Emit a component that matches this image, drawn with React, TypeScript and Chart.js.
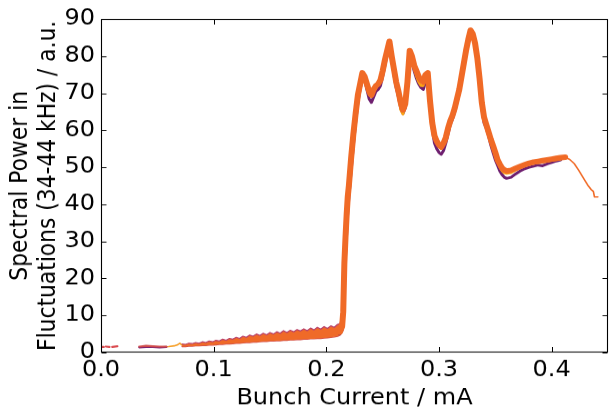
import React, { useEffect, useRef } from "react";
import { Chart, registerables } from "chart.js";

Chart.register(...registerables);

// ---- data ----
const highCurrent = [
  0.212, 0.214, 0.215, 0.216, 0.217, 0.218, 0.219, 0.220, 0.222, 0.224,
  0.226, 0.228, 0.230, 0.232, 0.234, 0.236, 0.238, 0.240, 0.242, 0.244,
  0.246, 0.248, 0.250, 0.252, 0.254, 0.256, 0.258, 0.260, 0.262, 0.264,
  0.266, 0.268, 0.270, 0.272, 0.274, 0.276, 0.278, 0.280, 0.282, 0.284,
  0.286, 0.288, 0.290, 0.292, 0.294, 0.296, 0.298, 0.300, 0.302, 0.304,
  0.306, 0.308, 0.310, 0.312, 0.314, 0.316, 0.318, 0.320, 0.322, 0.324,
  0.326, 0.328, 0.330, 0.332, 0.334, 0.336, 0.338, 0.340, 0.342, 0.344,
  0.346, 0.348, 0.350, 0.352, 0.354, 0.356, 0.358, 0.360, 0.364, 0.368,
  0.372, 0.376, 0.380, 0.384, 0.388, 0.392, 0.396, 0.400, 0.404, 0.408,
  0.412,
];

const powerOrange = [
  5.5, 7, 11, 24, 31, 37, 42, 45, 52.5, 59,
  64.5, 69.5, 72.5, 75.5, 74.5, 72.5, 70.5, 69.5, 71, 72,
  72.5, 73.5, 76, 79, 81.5, 84, 80, 76.5, 73, 70.5,
  67.5, 65.5, 67, 73, 81.5, 80, 77.5, 76, 74.5, 73.5,
  73, 75, 75.5, 68, 62, 58.5, 57, 56, 55.5, 56.5,
  58, 60.5, 62.5, 64, 66, 68.5, 71, 74.5, 78, 81.5,
  84.5, 87, 86, 83.5, 79.5, 74, 67.5, 63.5, 61.5, 59.5,
  57.5, 55.8, 54, 52, 50.8, 49.8, 49.3, 49, 49.2, 49.7,
  50.2, 50.7, 51.1, 51.4, 51.6, 51.8, 52, 52.2, 52.4, 52.6,
  52.7,
];

const powerPurple = [
  5, 6, 8, 18, 26, 32, 38, 42, 49, 56,
  62, 67.5, 71, 74, 73.5, 71, 68.5, 67.5, 69, 70.5,
  71, 72, 74.5, 77.5, 80.5, 83.5, 79.5, 75, 71.5, 69,
  66, 64.5, 66, 72, 80.5, 78.5, 76, 74, 72.5, 71.5,
  71, 73, 73.5, 66.5, 60.5, 56.5, 55, 54, 53.5, 54.5,
  56.5, 59, 61.5, 63, 65, 67.5, 70, 73.5, 77, 80.5,
  84, 86.5, 85.5, 83, 78, 72.5, 66, 62, 60.5, 58.5,
  56, 54, 52, 50.5, 49, 48, 47.3, 47, 47.3, 48.2,
  49, 49.6, 50, 50.3, 50.6, 50.4, 50.9, 51.3, 51.7, 52,
  null,
];

const powerYellow = [
  6, 9, 15, 27, 34, 40, 44, 47, 53, 58,
  63, 68, 72, 75, 74, 71.5, 69.5, 69, 70.5, 71.5,
  72, 73, 75.5, 78.5, 81, 83.5, 79.5, 75.5, 72, 69,
  65.5, 64.3, 66.5, 72.5, 81, 79.5, 76.5, 74.5, 73, 72,
  72, 74.5, 75, 67.5, 61.5, 58, 56.5, 55.5, 55, 56,
  57.5, 60, 62, 63.5, 65.5, 68, 70.5, 74, 77.5, 81,
  84, 86.5, 85.5, 83, 79, 73.5, 67, 63, 61, 59,
  57, 55, 53, 51.5, 50, 49, 48.5, 48.3, 48.5, 49.2,
  49.8, 50.3, 50.7, 51, 51.2, 51.4, 51.6, 51.8, 52, 52.2,
  null,
];

const tailCurrent = [0.412, 0.416, 0.420, 0.424, 0.428, 0.432, 0.435, 0.437, 0.438, 0.441];
const tailPower = [52.7, 52.1, 51, 49.2, 47.2, 45.2, 44, 43.5, 42, 42];

const lowCurrent = [
  0.072, 0.075, 0.078, 0.081, 0.084, 0.087, 0.090, 0.093, 0.096, 0.099,
  0.102, 0.105, 0.108, 0.111, 0.114, 0.117, 0.120, 0.123, 0.126, 0.129,
  0.132, 0.135, 0.138, 0.141, 0.144, 0.147, 0.150, 0.153, 0.156, 0.159,
  0.162, 0.165, 0.168, 0.171, 0.174, 0.177, 0.180, 0.183, 0.186, 0.189,
  0.192, 0.195, 0.198, 0.201, 0.204, 0.207, 0.210, 0.212, 0.214,
];
const lowUpper = [
  2.3, 2.2, 2.5, 2.4, 2.7, 2.5, 2.9, 2.7, 3.1, 2.9,
  3.3, 3.1, 3.6, 3.3, 3.8, 3.6, 4.1, 3.8, 4.4, 4.1,
  4.7, 4.4, 5.0, 4.6, 5.2, 4.8, 5.4, 5.0, 5.6, 5.2,
  5.9, 5.4, 6.0, 5.6, 6.2, 5.8, 6.4, 5.9, 6.6, 6.1,
  6.8, 6.3, 7.0, 6.5, 7.2, 6.8, 7.6, 7.8, 9.5,
];
const lowLower = [
  1.6, 1.6, 1.7, 1.7, 1.8, 1.8, 1.9, 1.9, 2.0, 2.0,
  2.1, 2.2, 2.2, 2.3, 2.3, 2.4, 2.5, 2.5, 2.6, 2.7,
  2.7, 2.8, 2.8, 2.9, 3.0, 3.0, 3.1, 3.1, 3.2, 3.2,
  3.3, 3.3, 3.4, 3.4, 3.5, 3.5, 3.6, 3.6, 3.7, 3.7,
  3.8, 3.8, 3.9, 4.0, 4.1, 4.2, 4.4, 4.7, 5.5,
];

const startCurrent = [0.0005, 0.0025, 0.003, 0.0045, 0.0075, 0.0085, 0.010, 0.0145];
const startPower = [1.5, 1.5, null, 1.6, 1.5, null, 1.5, 1.7];

const earlyCurrent = [0.034, 0.040, 0.046, 0.052, 0.058];
const earlyPurple = [1.4, 1.5, 1.5, 1.4, 1.5];
const earlyRed = [1.6, 1.8, 1.7, 1.6, 1.6];

const rampCurrent = [0.055, 0.060, 0.065, 0.068, 0.070, 0.072];
const rampPower = [1.5, 1.6, 1.8, 2.1, 2.5, 2.0];

const xTicks = [0.0, 0.1, 0.2, 0.3, 0.4];
const yTicks = [0, 10, 20, 30, 40, 50, 60, 70, 80, 90];

const pts = (xs: number[], ys: (number | null)[]) =>
  xs.map((x, i) => ({ x, y: ys[i] }));

const FONT = "'DejaVu Sans', sans-serif";
// the reference figure is squashed vertically; draw on a taller canvas and scale it with CSS
const W = 609;
const H_LOGICAL = 448;
const H_DISPLAY = 407;

const framePlugin = {
  id: "frameTicks",
  afterDraw(chart: any) {
    const { ctx, chartArea: a, scales } = chart;
    const L = Math.round(a.left) + 0.5;
    const R = Math.round(a.right) - 0.5;
    const T = Math.round(a.top) + 0.5;
    const B = Math.round(a.bottom) - 0.5;
    const lenX = 5;
    const lenY = 5.5;
    ctx.save();
    ctx.strokeStyle = "#000";
    ctx.lineWidth = 1;
    ctx.beginPath();
    xTicks.forEach((v) => {
      const px = Math.round(scales.x.getPixelForValue(v)) + 0.5;
      ctx.moveTo(px, B);
      ctx.lineTo(px, B - lenY);
      ctx.moveTo(px, T);
      ctx.lineTo(px, T + lenY);
    });
    yTicks.forEach((v) => {
      const py = Math.round(scales.y.getPixelForValue(v)) + 0.5;
      ctx.moveTo(L, py);
      ctx.lineTo(L + lenX, py);
      ctx.moveTo(R, py);
      ctx.lineTo(R - lenX, py);
    });
    ctx.stroke();
    ctx.lineWidth = 1.1;
    ctx.strokeRect(L, T, R - L, B - T);
    ctx.restore();
  },
};

export default function App() {
  const ref = useRef<HTMLCanvasElement | null>(null);

  useEffect(() => {
    if (!ref.current) return;
    const line = (data: any[], color: string, width: number, extra: any = {}) => ({
      data,
      borderColor: color,
      backgroundColor: color,
      borderWidth: width,
      pointRadius: 0,
      tension: 0,
      spanGaps: false,
      borderJoinStyle: "round",
      borderCapStyle: "round",
      fill: false,
      ...extra,
    });
    const chart = new Chart(ref.current, {
      type: "line",
      data: {
        datasets: [
          line(pts(highCurrent, powerOrange), "#f06a26", 6),
          line(pts(tailCurrent, tailPower), "#f06a26", 1.6),
          line(pts(highCurrent, powerYellow), "#fba614", 2.6),
          line(pts(highCurrent, powerPurple), "#6e1f6f", 3),
          line(pts(lowCurrent, lowUpper), "#b8406a", 1.2, {
            fill: "+1",
            backgroundColor: "#ef6a28",
          }),
          line(pts(lowCurrent, lowLower), "#d04a48", 1.4),
          line(pts(startCurrent, startPower), "#d9464a", 2.2),
          line(pts(earlyCurrent, earlyRed), "#d04a4a", 2.2),
          line(pts(earlyCurrent, earlyPurple), "#7a2270", 2.2),
          line(pts(rampCurrent, rampPower), "#f59a1c", 1.6),
        ],
      },
      options: {
        animation: false,
        responsive: false,
        maintainAspectRatio: false,
        devicePixelRatio: 1,
        events: [],
        layout: { padding: { top: 21, right: 1, left: 0, bottom: 0 } },
        plugins: {
          legend: { display: false },
          tooltip: { enabled: false },
        },
        scales: {
          x: {
            type: "linear",
            min: 0,
            max: 0.45,
            grid: { display: false, drawTicks: false },
            border: { display: false },
            afterFit: (s: any) => {
              s.height = 60;
            },
            ticks: {
              stepSize: 0.1,
              includeBounds: false,
              padding: 5,
              color: "#000",
              font: { family: FONT, size: 24 },
              maxRotation: 0,
              callback: (v: any) => Number(v).toFixed(1),
            },
            title: {
              display: true,
              text: "Bunch Current / mA",
              color: "#000",
              font: { family: FONT, size: 24, lineHeight: 0.75 },
              padding: { top: 0, bottom: 0 },
            },
          },
          y: {
            type: "linear",
            min: 0,
            max: 90,
            grid: { display: false, drawTicks: false },
            border: { display: false },
            afterFit: (s: any) => {
              s.width = 101;
            },
            ticks: {
              stepSize: 10,
              padding: 6,
              color: "#000",
              font: { family: FONT, size: 24 },
              callback: (v: any) => String(v),
            },
            title: {
              display: true,
              text: ["Spectral Power in", "Fluctuations (34-44 kHz) / a.u."],
              color: "#000",
              font: { family: FONT, size: 24, lineHeight: 1.15 },
              padding: { top: 7, bottom: 0 },
            },
          },
        },
      },
      plugins: [framePlugin],
    } as any);
    return () => chart.destroy();
  }, []);

  return (
    <div style={{ position: "absolute", left: 0, top: 0, width: W, height: H_DISPLAY, background: "#fff", overflow: "hidden" }}>
      <canvas
        ref={ref}
        width={W}
        height={H_LOGICAL}
        style={{ width: W + "px", height: H_DISPLAY + "px", display: "block" }}
      />
    </div>
  );
}
